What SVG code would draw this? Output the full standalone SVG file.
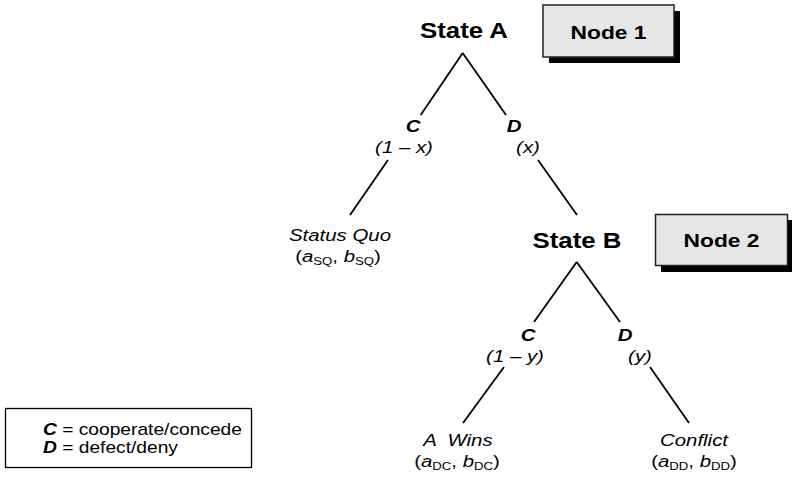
<svg xmlns="http://www.w3.org/2000/svg" width="792" height="486" viewBox="0 0 792 486">
  <style>
    text { font-family: "Liberation Sans", Arial, sans-serif; fill: #000; }
    .state { font-size: 21.5px; font-weight: bold; text-anchor: middle; }
    .tag { font-size: 19px; font-weight: bold; text-anchor: middle; }
    .move { font-size: 17px; font-weight: bold; font-style: italic; text-anchor: middle; }
    .prob { font-size: 17px; font-style: italic; text-anchor: middle; }
    .outcome { font-size: 17px; font-style: italic; text-anchor: middle; white-space: pre; }
    .payoff { font-size: 17px; text-anchor: middle; }
    .payoff .v { font-style: italic; }
    .payoff .s { font-size: 11px; }
    .legend { font-size: 16px; }
    .legend .k { font-weight: bold; font-style: italic; }
    .edge { stroke: #000; stroke-width: 1.8; fill: none; stroke-linecap: butt; }
    .box { fill: #e6e6e6; stroke: #222; stroke-width: 1.5; }
    .shadow { fill: #000; }
  </style>

  <!-- decision nodes -->
  <g id="state-a">
    <text class="state" transform="translate(464 38) scale(1.2 1)">State A</text>
  </g>
  <g id="node-1">
    <rect class="shadow" x="549" y="11" width="131" height="52"/>
    <rect class="box" x="543" y="5" width="131" height="52"/>
    <text class="tag" transform="translate(608.5 38.5) scale(1.2 1)">Node 1</text>
  </g>
  <g id="state-b">
    <text class="state" transform="translate(577 248) scale(1.2 1)">State B</text>
  </g>
  <g id="node-2">
    <rect class="shadow" x="661" y="220" width="132" height="52"/>
    <rect class="box" x="655.5" y="214.5" width="132" height="51"/>
    <text class="tag" transform="translate(721.5 247) scale(1.2 1)">Node 2</text>
  </g>

  <!-- branches -->
  <g id="connectors">
    <line class="edge" x1="462.7" y1="53" x2="420.7" y2="115"/>
    <line class="edge" x1="462.7" y1="53" x2="506" y2="115"/>
    <line class="edge" x1="388" y1="160" x2="350" y2="215"/>
    <line class="edge" x1="538" y1="160" x2="577" y2="215"/>
    <line class="edge" x1="576.7" y1="262" x2="534" y2="322"/>
    <line class="edge" x1="576.7" y1="262" x2="620" y2="322"/>
    <line class="edge" x1="504" y1="367" x2="463" y2="423"/>
    <line class="edge" x1="650" y1="367" x2="689" y2="423"/>
  </g>

  <!-- move labels with probabilities -->
  <g id="branch-labels">
    <text class="move" transform="translate(413 131.5) scale(1.2 1)">C</text>
    <text class="prob" transform="translate(404 153) scale(1.2 1)">(1 – x)</text>
    <text class="move" transform="translate(514 131.5) scale(1.2 1)">D</text>
    <text class="prob" transform="translate(528 153) scale(1.2 1)">(x)</text>
    <text class="move" transform="translate(528 341) scale(1.2 1)">C</text>
    <text class="prob" transform="translate(515 362) scale(1.2 1)">(1 – y)</text>
    <text class="move" transform="translate(625 341) scale(1.2 1)">D</text>
    <text class="prob" transform="translate(640 362) scale(1.2 1)">(y)</text>
  </g>

  <!-- terminal outcomes -->
  <g id="status-quo">
    <text class="outcome" transform="translate(340 241) scale(1.2 1)">Status Quo</text>
    <text class="payoff" transform="translate(338 262) scale(1.2 1)">(<tspan class="v">a</tspan><tspan class="s" dy="3">SQ</tspan><tspan dy="-3">, </tspan><tspan class="v">b</tspan><tspan class="s" dy="3">SQ</tspan><tspan dy="-3">)</tspan></text>
  </g>
  <g id="a-wins">
    <text class="outcome" transform="translate(458 446) scale(1.2 1)">A  Wins</text>
    <text class="payoff" transform="translate(457 467) scale(1.2 1)">(<tspan class="v">a</tspan><tspan class="s" dy="3">DC</tspan><tspan dy="-3">, </tspan><tspan class="v">b</tspan><tspan class="s" dy="3">DC</tspan><tspan dy="-3">)</tspan></text>
  </g>
  <g id="conflict">
    <text class="outcome" transform="translate(694 446) scale(1.2 1)">Conflict</text>
    <text class="payoff" transform="translate(694 467) scale(1.2 1)">(<tspan class="v">a</tspan><tspan class="s" dy="3">DD</tspan><tspan dy="-3">, </tspan><tspan class="v">b</tspan><tspan class="s" dy="3">DD</tspan><tspan dy="-3">)</tspan></text>
  </g>

  <!-- key -->
  <g id="legend">
    <rect x="5.5" y="408.5" width="246" height="59" fill="#fff" stroke="#000" stroke-width="1.3"/>
    <text class="legend" transform="translate(43 435) scale(1.2 1)"><tspan class="k">C</tspan> = cooperate/concede</text>
    <text class="legend" transform="translate(43 453) scale(1.2 1)"><tspan class="k">D</tspan> = defect/deny</text>
  </g>
</svg>
